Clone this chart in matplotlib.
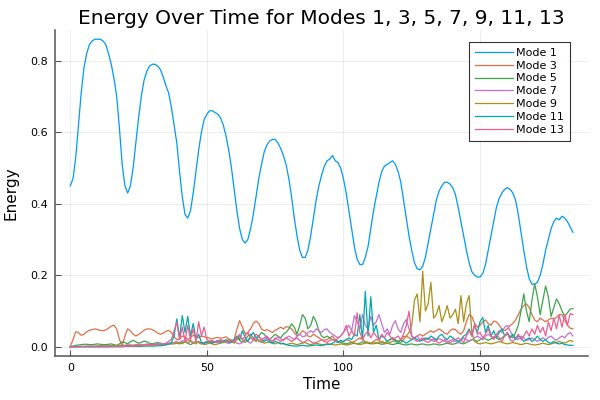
import numpy as np
import matplotlib
matplotlib.use("Agg")
import matplotlib.pyplot as plt

# time samples, one per unit
time = np.arange(0, 185)

mode1 = [
    0.45, 0.47, 0.53, 0.62, 0.71, 0.78, 0.82, 0.845, 0.855, 0.86,
    0.86, 0.86, 0.855, 0.845, 0.82, 0.79, 0.75, 0.70, 0.61, 0.51,
    0.45, 0.43, 0.45, 0.50, 0.57, 0.64, 0.70, 0.745, 0.77, 0.785,
    0.79, 0.79, 0.785, 0.775, 0.755, 0.73, 0.71, 0.67, 0.62, 0.57,
    0.49, 0.42, 0.37, 0.36, 0.38, 0.43, 0.49, 0.55, 0.60, 0.635,
    0.65, 0.66, 0.66, 0.655, 0.65, 0.64, 0.62, 0.59, 0.55, 0.50,
    0.44, 0.38, 0.33, 0.30, 0.29, 0.30, 0.33, 0.37, 0.42, 0.47,
    0.51, 0.545, 0.565, 0.575, 0.58, 0.58, 0.57, 0.555, 0.535, 0.51,
    0.47, 0.42, 0.36, 0.31, 0.27, 0.25, 0.25, 0.27, 0.31, 0.36,
    0.41, 0.45, 0.48, 0.505, 0.52, 0.525, 0.535, 0.52, 0.515, 0.50,
    0.47, 0.43, 0.38, 0.33, 0.28, 0.245, 0.23, 0.23, 0.25, 0.28,
    0.33, 0.38, 0.42, 0.46, 0.49, 0.505, 0.51, 0.515, 0.52, 0.51,
    0.49, 0.46, 0.41, 0.36, 0.31, 0.27, 0.235, 0.218, 0.215, 0.225,
    0.25, 0.29, 0.33, 0.37, 0.41, 0.435, 0.45, 0.46, 0.46, 0.455,
    0.445, 0.425, 0.39, 0.35, 0.31, 0.27, 0.235, 0.21, 0.20, 0.195,
    0.195, 0.205, 0.23, 0.27, 0.31, 0.35, 0.39, 0.415, 0.43, 0.44,
    0.445, 0.44, 0.43, 0.41, 0.37, 0.32, 0.27, 0.225, 0.19, 0.175,
    0.175, 0.18, 0.20, 0.23, 0.27, 0.30, 0.33, 0.35, 0.36, 0.355,
    0.365, 0.36, 0.35, 0.335, 0.32,
]

mode3 = [
    0.0, 0.02, 0.042, 0.04, 0.032, 0.035, 0.042, 0.046, 0.048, 0.05,
    0.048, 0.046, 0.045, 0.047, 0.052, 0.058, 0.06, 0.05, 0.02, 0.004,
    0.03, 0.05, 0.045, 0.035, 0.03, 0.034, 0.04, 0.046, 0.05, 0.05,
    0.048, 0.044, 0.038, 0.035, 0.038, 0.043, 0.046, 0.04, 0.028, 0.02,
    0.022, 0.03, 0.028, 0.02, 0.025, 0.032, 0.03, 0.025, 0.03, 0.028,
    0.026, 0.024, 0.022, 0.025, 0.026, 0.024, 0.025, 0.028, 0.022, 0.015,
    0.02, 0.05, 0.073, 0.055, 0.036, 0.04, 0.05, 0.065, 0.072, 0.065,
    0.05, 0.045, 0.048, 0.044, 0.04, 0.046, 0.05, 0.055, 0.05, 0.056,
    0.055, 0.05, 0.04, 0.03, 0.035, 0.045, 0.04, 0.03, 0.028, 0.035,
    0.03, 0.025, 0.02, 0.018, 0.02, 0.025, 0.03, 0.02, 0.015, 0.012,
    0.015, 0.02, 0.018, 0.012, 0.015, 0.02, 0.025, 0.02, 0.015, 0.012,
    0.01, 0.015, 0.02, 0.018, 0.012, 0.01, 0.015, 0.02, 0.025, 0.02,
    0.015, 0.02, 0.028, 0.03, 0.025, 0.02, 0.025, 0.03, 0.035, 0.03,
    0.035, 0.04, 0.045, 0.04, 0.045, 0.05, 0.045, 0.038, 0.035, 0.045,
    0.05, 0.048, 0.04, 0.035, 0.045, 0.07, 0.09, 0.085, 0.065, 0.055,
    0.06, 0.07, 0.075, 0.065, 0.06, 0.072, 0.07, 0.06, 0.05, 0.045,
    0.05, 0.06, 0.065, 0.075, 0.09, 0.105, 0.115, 0.12, 0.11, 0.09,
    0.075, 0.07, 0.08, 0.075, 0.07, 0.075, 0.08, 0.078, 0.082, 0.09,
    0.09, 0.075, 0.06, 0.052, 0.05,
]

mode5 = [
    0.0, 0.002, 0.004, 0.005, 0.006, 0.007, 0.007, 0.006, 0.006, 0.007,
    0.008, 0.007, 0.006, 0.006, 0.007, 0.008, 0.006, 0.004, 0.008, 0.014,
    0.012, 0.008, 0.014, 0.018, 0.014, 0.01, 0.012, 0.016, 0.014, 0.01,
    0.008, 0.01, 0.012, 0.01, 0.007, 0.006, 0.008, 0.01, 0.012, 0.01,
    0.008, 0.012, 0.015, 0.01, 0.006, 0.01, 0.014, 0.012, 0.008, 0.01,
    0.014, 0.016, 0.014, 0.012, 0.015, 0.018, 0.016, 0.012, 0.01, 0.015,
    0.02, 0.025, 0.018, 0.012, 0.02, 0.03, 0.035, 0.025, 0.018, 0.03,
    0.04, 0.035, 0.025, 0.02, 0.028, 0.035, 0.03, 0.025, 0.035, 0.04,
    0.05, 0.064, 0.055, 0.035, 0.06, 0.09, 0.08, 0.05, 0.06, 0.085,
    0.07, 0.045, 0.03, 0.025, 0.03, 0.025, 0.02, 0.018, 0.015, 0.012,
    0.01, 0.008, 0.01, 0.012, 0.01, 0.008, 0.01, 0.014, 0.012, 0.01,
    0.008, 0.01, 0.012, 0.009, 0.007, 0.008, 0.01, 0.008, 0.006, 0.008,
    0.01, 0.008, 0.006, 0.005, 0.007, 0.008, 0.006, 0.005, 0.007, 0.008,
    0.006, 0.005, 0.006, 0.008, 0.007, 0.005, 0.006, 0.008, 0.01, 0.008,
    0.007, 0.009, 0.012, 0.01, 0.008, 0.012, 0.016, 0.02, 0.018, 0.015,
    0.02, 0.025, 0.022, 0.018, 0.022, 0.028, 0.025, 0.02, 0.025, 0.03,
    0.035, 0.03, 0.025, 0.04, 0.06, 0.1, 0.148, 0.1, 0.07, 0.13,
    0.176, 0.14, 0.09, 0.13, 0.17, 0.14, 0.085, 0.11, 0.134, 0.12,
    0.1, 0.085, 0.095, 0.105, 0.107,
]

mode7 = [
    0.0, 0.0, 0.001, 0.001, 0.001, 0.001, 0.002, 0.002, 0.002, 0.002,
    0.002, 0.003, 0.003, 0.002, 0.003, 0.004, 0.003, 0.003, 0.004, 0.005,
    0.004, 0.006, 0.005, 0.004, 0.006, 0.007, 0.005, 0.006, 0.008, 0.006,
    0.005, 0.007, 0.009, 0.007, 0.006, 0.008, 0.01, 0.008, 0.012, 0.015,
    0.01, 0.018, 0.012, 0.02, 0.015, 0.01, 0.016, 0.012, 0.008, 0.012,
    0.015, 0.012, 0.01, 0.014, 0.012, 0.015, 0.018, 0.014, 0.01, 0.012,
    0.015, 0.01, 0.008, 0.012, 0.02, 0.015, 0.01, 0.018, 0.022, 0.015,
    0.012, 0.02, 0.025, 0.018, 0.015, 0.02, 0.028, 0.022, 0.018, 0.025,
    0.03, 0.025, 0.02, 0.03, 0.035, 0.028, 0.03, 0.04, 0.045, 0.04,
    0.05, 0.045, 0.04, 0.048, 0.05, 0.04, 0.035, 0.03, 0.025, 0.03,
    0.04, 0.05, 0.06, 0.045, 0.087, 0.07, 0.05, 0.09, 0.06, 0.05,
    0.085, 0.06, 0.07, 0.09, 0.065, 0.04, 0.05, 0.035, 0.06, 0.073,
    0.05, 0.04, 0.065, 0.076, 0.05, 0.03, 0.025, 0.03, 0.02, 0.018,
    0.02, 0.025, 0.02, 0.015, 0.018, 0.022, 0.02, 0.015, 0.012, 0.018,
    0.02, 0.015, 0.012, 0.018, 0.025, 0.02, 0.015, 0.02, 0.025, 0.03,
    0.025, 0.02, 0.03, 0.035, 0.03, 0.025, 0.035, 0.045, 0.04, 0.055,
    0.06, 0.045, 0.03, 0.025, 0.02, 0.03, 0.025, 0.018, 0.02, 0.025,
    0.02, 0.015, 0.02, 0.025, 0.02, 0.026, 0.03, 0.022, 0.018, 0.025,
    0.03, 0.025, 0.035, 0.04, 0.03,
]

mode9 = [
    0.0, 0.0, 0.0, 0.0, 0.001, 0.001, 0.001, 0.001, 0.001, 0.001,
    0.002, 0.002, 0.002, 0.002, 0.002, 0.002, 0.003, 0.003, 0.003, 0.003,
    0.003, 0.003, 0.004, 0.004, 0.004, 0.004, 0.005, 0.005, 0.005, 0.005,
    0.005, 0.006, 0.006, 0.006, 0.006, 0.007, 0.007, 0.008, 0.008, 0.01,
    0.012, 0.008, 0.015, 0.01, 0.018, 0.012, 0.008, 0.015, 0.01, 0.006,
    0.008, 0.01, 0.008, 0.006, 0.008, 0.01, 0.012, 0.015, 0.02, 0.015,
    0.01, 0.02, 0.03, 0.02, 0.012, 0.018, 0.025, 0.02, 0.015, 0.02,
    0.015, 0.01, 0.012, 0.015, 0.01, 0.008, 0.012, 0.01, 0.008, 0.006,
    0.008, 0.01, 0.008, 0.006, 0.008, 0.01, 0.012, 0.008, 0.006, 0.008,
    0.01, 0.008, 0.006, 0.005, 0.007, 0.008, 0.006, 0.005, 0.006, 0.008,
    0.007, 0.005, 0.006, 0.008, 0.01, 0.008, 0.006, 0.008, 0.01, 0.012,
    0.01, 0.008, 0.01, 0.012, 0.015, 0.012, 0.01, 0.012, 0.015, 0.018,
    0.015, 0.012, 0.02, 0.03, 0.04, 0.06, 0.13, 0.148, 0.07, 0.211,
    0.1, 0.12, 0.18, 0.08, 0.09, 0.115, 0.07, 0.09, 0.115, 0.08,
    0.09, 0.105, 0.065, 0.143, 0.07, 0.12, 0.143, 0.04, 0.015, 0.01,
    0.008, 0.01, 0.012, 0.01, 0.008, 0.01, 0.012, 0.015, 0.012, 0.01,
    0.008, 0.01, 0.012, 0.01, 0.008, 0.006, 0.008, 0.01, 0.008, 0.006,
    0.005, 0.006, 0.008, 0.01, 0.008, 0.006, 0.008, 0.01, 0.012, 0.015,
    0.012, 0.01, 0.014, 0.018, 0.015,
]

mode11 = [
    0.0, 0.0, 0.0, 0.0, 0.0, 0.0, 0.0, 0.0, 0.0, 0.0,
    0.0, 0.0, 0.0, 0.0, 0.0, 0.0, 0.0, 0.0, 0.0, 0.0,
    0.001, 0.001, 0.001, 0.001, 0.001, 0.001, 0.001, 0.002, 0.002, 0.002,
    0.002, 0.002, 0.003, 0.003, 0.004, 0.005, 0.008, 0.012, 0.03, 0.078,
    0.025, 0.087, 0.04, 0.085, 0.03, 0.065, 0.02, 0.035, 0.012, 0.01,
    0.012, 0.015, 0.01, 0.014, 0.018, 0.012, 0.015, 0.02, 0.015, 0.012,
    0.02, 0.03, 0.02, 0.045, 0.025, 0.015, 0.03, 0.04, 0.025, 0.03,
    0.02, 0.015, 0.02, 0.012, 0.01, 0.015, 0.012, 0.008, 0.01, 0.006,
    0.004, 0.003, 0.002, 0.002, 0.003, 0.004, 0.003, 0.002, 0.003, 0.004,
    0.005, 0.004, 0.003, 0.006, 0.008, 0.006, 0.01, 0.015, 0.012, 0.018,
    0.015, 0.02, 0.025, 0.02, 0.035, 0.03, 0.09, 0.02, 0.155, 0.03,
    0.14, 0.04, 0.06, 0.02, 0.03, 0.025, 0.015, 0.02, 0.025, 0.015,
    0.012, 0.02, 0.015, 0.01, 0.015, 0.02, 0.025, 0.02, 0.015, 0.02,
    0.025, 0.02, 0.03, 0.025, 0.02, 0.03, 0.035, 0.025, 0.02, 0.03,
    0.025, 0.02, 0.015, 0.02, 0.03, 0.035, 0.05, 0.03, 0.06, 0.04,
    0.07, 0.082, 0.04, 0.06, 0.03, 0.045, 0.025, 0.04, 0.05, 0.03,
    0.04, 0.025, 0.035, 0.02, 0.03, 0.025, 0.015, 0.02, 0.025, 0.015,
    0.02, 0.03, 0.02, 0.015, 0.02, 0.012, 0.01, 0.015, 0.01, 0.008,
    0.01, 0.006, 0.005, 0.004, 0.004,
]

mode13 = [
    0.0, 0.0, 0.0, 0.0, 0.0, 0.0, 0.0, 0.0, 0.0, 0.0,
    0.0, 0.0, 0.0, 0.0, 0.0, 0.001, 0.001, 0.001, 0.001, 0.001,
    0.001, 0.002, 0.002, 0.002, 0.002, 0.003, 0.003, 0.003, 0.004, 0.004,
    0.005, 0.005, 0.006, 0.007, 0.008, 0.01, 0.015, 0.02, 0.045, 0.068,
    0.02, 0.055, 0.015, 0.06, 0.02, 0.05, 0.015, 0.07, 0.03, 0.055,
    0.02, 0.015, 0.018, 0.012, 0.015, 0.02, 0.015, 0.012, 0.015, 0.02,
    0.015, 0.025, 0.035, 0.02, 0.03, 0.04, 0.025, 0.02, 0.035, 0.03,
    0.02, 0.025, 0.03, 0.02, 0.015, 0.025, 0.02, 0.015, 0.02, 0.025,
    0.02, 0.015, 0.02, 0.025, 0.018, 0.012, 0.015, 0.02, 0.015, 0.01,
    0.012, 0.015, 0.02, 0.015, 0.012, 0.018, 0.02, 0.015, 0.025, 0.03,
    0.04, 0.06, 0.03, 0.045, 0.03, 0.095, 0.04, 0.02, 0.035, 0.045,
    0.025, 0.04, 0.03, 0.02, 0.035, 0.025, 0.04, 0.03, 0.02, 0.025,
    0.03, 0.02, 0.035, 0.06, 0.1, 0.03, 0.02, 0.015, 0.02, 0.025,
    0.015, 0.012, 0.018, 0.022, 0.015, 0.01, 0.015, 0.02, 0.015, 0.012,
    0.015, 0.02, 0.025, 0.018, 0.012, 0.03, 0.045, 0.03, 0.064, 0.035,
    0.04, 0.025, 0.035, 0.05, 0.03, 0.02, 0.035, 0.025, 0.015, 0.03,
    0.04, 0.02, 0.015, 0.025, 0.035, 0.02, 0.03, 0.045, 0.03, 0.05,
    0.035, 0.06, 0.04, 0.055, 0.03, 0.07, 0.045, 0.08, 0.05, 0.088,
    0.055, 0.09, 0.06, 0.093, 0.09,
]

labels = ["Mode 1", "Mode 3", "Mode 5", "Mode 7", "Mode 9", "Mode 11", "Mode 13"]
series = [mode1, mode3, mode5, mode7, mode9, mode11, mode13]
colors = ["#009af9", "#e26f46", "#3ea44e", "#c271d2", "#ac8e18", "#00a9ad", "#ed5e93"]

fig = plt.figure(figsize=(6, 4), dpi=100)
ax = fig.add_axes([0.092, 0.11, 0.888, 0.815])

for vals, lab, col in zip(series, labels, colors):
    ax.plot(time, vals, color=col, lw=0.9, label=lab)

ax.margins(x=0.03, y=0.03)
ax.set_xticks([0, 50, 100, 150])
ax.set_yticks([0.0, 0.2, 0.4, 0.6, 0.8])
ax.set_yticklabels(["0.0", "0.2", "0.4", "0.6", "0.8"])
ax.grid(True, color="black", alpha=0.1, lw=0.5)
ax.tick_params(direction="in", length=4.5, width=0.8, labelsize=8,
               colors="#555555", labelcolor="black", pad=5)
for side in ["top", "right"]:
    ax.spines[side].set_visible(False)
for side in ["left", "bottom"]:
    ax.spines[side].set_linewidth(1.1)
    ax.spines[side].set_color("#555555")

ax.set_title("Energy Over Time for Modes 1, 3, 5, 7, 9, 11, 13", fontsize=14.5, pad=4)
ax.set_xlabel("Time", fontsize=11, labelpad=3)
ax.set_ylabel("Energy", fontsize=11, labelpad=9)

leg = ax.legend(loc="upper right", fontsize=8, frameon=True, fancybox=False,
                labelspacing=0.26, handlelength=3.4, handletextpad=0.35,
                borderpad=0.5, borderaxespad=0, bbox_to_anchor=(0.966, 0.963))
leg.get_frame().set_edgecolor("black")
leg.get_frame().set_linewidth(0.8)

fig.savefig("out.png", dpi=100)
